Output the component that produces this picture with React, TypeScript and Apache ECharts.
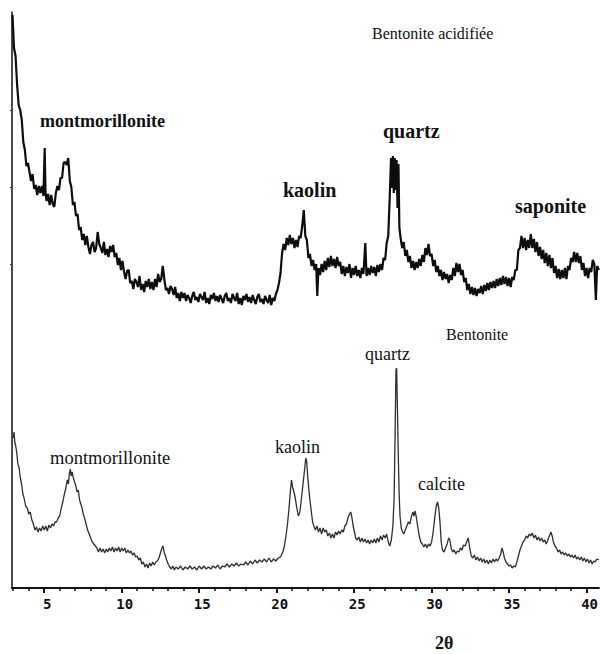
import React, { useEffect, useRef } from "react";
import * as echarts from "echarts";

// 2θ tick labels
const majorTicks = [5, 10, 15, 20, 25, 30, 35, 40];
const minorTicks = [3, 4, 6, 7, 8, 9, 11, 12, 13, 14, 16, 17, 18, 19, 21, 22, 23, 24, 26, 27, 28, 29, 31, 32, 33, 34, 36, 37, 38, 39];
const leftTicks = [324, 401, 478];

// Bentonite acidifiée (offset intensity, arbitrary units)
const acidified: [number, number][] = [
  [2.95, 573], [3.05, 540], [3.15, 532], [3.25, 503], [3.35, 483], [3.45, 478], [3.55, 468], [3.65, 446], [3.75, 438], [3.85, 422],
  [3.95, 425], [4.05, 416], [4.15, 407], [4.25, 414], [4.35, 399], [4.45, 403], [4.55, 393], [4.65, 402], [4.75, 395], [4.85, 402],
  [4.95, 392], [5.03, 440], [5.08, 396], [5.15, 387], [5.25, 394], [5.35, 383], [5.45, 393], [5.55, 384], [5.65, 381], [5.75, 395],
  [5.85, 402], [5.95, 398], [6.05, 410], [6.15, 410], [6.25, 425], [6.35, 426], [6.45, 423], [6.55, 430], [6.65, 407], [6.75, 401],
  [6.85, 383], [6.95, 386], [7.05, 372], [7.15, 374], [7.25, 358], [7.35, 361], [7.45, 348], [7.55, 354], [7.65, 343], [7.75, 352],
  [7.85, 341], [7.95, 334], [8.05, 343], [8.15, 346], [8.25, 336], [8.35, 340], [8.45, 356], [8.55, 344], [8.65, 340], [8.75, 335],
  [8.85, 346], [8.95, 333], [9.05, 339], [9.15, 331], [9.25, 342], [9.35, 336], [9.45, 343], [9.55, 331], [9.65, 335], [9.75, 323],
  [9.85, 330], [9.95, 318], [10.05, 327], [10.15, 316], [10.25, 309], [10.35, 317], [10.45, 318], [10.55, 305], [10.65, 307], [10.75, 299],
  [10.85, 309], [10.95, 306], [11.05, 301], [11.15, 312], [11.25, 298], [11.35, 304], [11.45, 296], [11.55, 307], [11.65, 301], [11.75, 309],
  [11.85, 299], [11.95, 306], [12.05, 298], [12.15, 309], [12.25, 301], [12.35, 314], [12.45, 306], [12.55, 309], [12.65, 322], [12.75, 309],
  [12.85, 298], [12.95, 300], [13.05, 294], [13.15, 302], [13.25, 299], [13.35, 293], [13.45, 301], [13.55, 290], [13.65, 295], [13.75, 287],
  [13.85, 296], [13.95, 290], [14.05, 295], [14.15, 287], [14.25, 293], [14.35, 290], [14.45, 285], [14.55, 292], [14.65, 296], [14.75, 288],
  [14.85, 291], [14.95, 286], [15.05, 294], [15.15, 291], [15.25, 288], [15.35, 296], [15.45, 285], [15.55, 290], [15.65, 284], [15.75, 293],
  [15.85, 289], [15.95, 295], [16.05, 287], [16.15, 292], [16.25, 286], [16.35, 293], [16.45, 289], [16.55, 285], [16.65, 292], [16.75, 295],
  [16.85, 287], [16.95, 290], [17.05, 285], [17.15, 294], [17.25, 290], [17.35, 287], [17.45, 295], [17.55, 284], [17.65, 290], [17.75, 283],
  [17.85, 292], [17.95, 288], [18.05, 294], [18.15, 286], [18.25, 291], [18.35, 285], [18.45, 293], [18.55, 288], [18.65, 284], [18.75, 291],
  [18.85, 294], [18.95, 286], [19.05, 289], [19.15, 284], [19.25, 292], [19.35, 288], [19.45, 285], [19.55, 293], [19.65, 283], [19.75, 290],
  [19.85, 287], [19.95, 294], [20.05, 298], [20.15, 305], [20.25, 315], [20.35, 335], [20.45, 344], [20.55, 338], [20.65, 350], [20.75, 343],
  [20.85, 353], [20.95, 344], [21.05, 350], [21.15, 340], [21.25, 348], [21.35, 341], [21.45, 352], [21.55, 350], [21.65, 362], [21.75, 378],
  [21.85, 352], [21.95, 348], [22.05, 330], [22.15, 334], [22.25, 322], [22.35, 328], [22.45, 318], [22.55, 324], [22.62, 292], [22.7, 320],
  [22.8, 313], [22.9, 324], [23.0, 316], [23.1, 327], [23.2, 318], [23.3, 330], [23.4, 321], [23.5, 332], [23.6, 322], [23.7, 329],
  [23.8, 320], [23.9, 331], [24.0, 322], [24.1, 326], [24.2, 314], [24.3, 322], [24.4, 312], [24.5, 321], [24.6, 315], [24.7, 324],
  [24.8, 310], [24.9, 320], [25.0, 313], [25.1, 322], [25.2, 312], [25.3, 318], [25.4, 310], [25.5, 320], [25.6, 314], [25.72, 345],
  [25.8, 312], [25.9, 320], [26.0, 313], [26.1, 322], [26.2, 315], [26.3, 321], [26.4, 312], [26.5, 323], [26.6, 316], [26.7, 324],
  [26.8, 318], [26.9, 330], [27.0, 328], [27.1, 345], [27.2, 352], [27.3, 392], [27.38, 430], [27.44, 400], [27.5, 432], [27.56, 395],
  [27.62, 430], [27.68, 398], [27.74, 428], [27.8, 380], [27.86, 424], [27.92, 360], [28.0, 350], [28.1, 340], [28.2, 346], [28.3, 332],
  [28.4, 338], [28.5, 326], [28.6, 332], [28.7, 320], [28.8, 327], [28.9, 318], [29.0, 326], [29.1, 320], [29.2, 329], [29.3, 322],
  [29.4, 333], [29.5, 326], [29.6, 340], [29.7, 333], [29.8, 344], [29.9, 332], [30.0, 334], [30.1, 322], [30.2, 328], [30.3, 316],
  [30.4, 322], [30.5, 312], [30.6, 318], [30.7, 308], [30.8, 316], [30.9, 309], [31.0, 314], [31.1, 305], [31.2, 313], [31.3, 308],
  [31.4, 320], [31.5, 312], [31.6, 325], [31.7, 316], [31.8, 324], [31.9, 313], [32.0, 318], [32.1, 306], [32.2, 310], [32.3, 298],
  [32.4, 304], [32.5, 294], [32.6, 301], [32.7, 293], [32.8, 300], [32.9, 292], [33.0, 299], [33.1, 295], [33.2, 302], [33.3, 294],
  [33.4, 303], [33.5, 297], [33.6, 305], [33.7, 298], [33.8, 306], [33.9, 300], [34.0, 307], [34.1, 300], [34.2, 309], [34.3, 302],
  [34.4, 310], [34.5, 303], [34.6, 312], [34.7, 304], [34.8, 311], [34.9, 302], [35.0, 310], [35.1, 301], [35.2, 311], [35.3, 308],
  [35.4, 318], [35.5, 318], [35.6, 338], [35.7, 340], [35.8, 352], [35.9, 340], [36.0, 350], [36.1, 338], [36.2, 348], [36.3, 340],
  [36.4, 354], [36.5, 340], [36.6, 349], [36.7, 336], [36.8, 346], [36.9, 332], [37.0, 341], [37.1, 329], [37.2, 338], [37.3, 325],
  [37.4, 335], [37.5, 322], [37.6, 333], [37.7, 320], [37.8, 330], [37.9, 315], [38.0, 322], [38.1, 310], [38.2, 319], [38.3, 309],
  [38.4, 318], [38.5, 310], [38.6, 320], [38.7, 309], [38.8, 322], [38.9, 318], [39.0, 330], [39.1, 326], [39.2, 336], [39.3, 326],
  [39.4, 335], [39.5, 325], [39.6, 332], [39.7, 318], [39.8, 325], [39.9, 312], [40.0, 320], [40.1, 310], [40.2, 320], [40.3, 316],
  [40.4, 328], [40.5, 324], [40.6, 288], [40.68, 322], [40.8, 318],
];

// Bentonite (offset intensity, arbitrary units)
const bentonite: [number, number][] = [
  [3.0, 150], [3.05, 156], [3.1, 146], [3.16, 142], [3.22, 136], [3.3, 124], [3.38, 120], [3.46, 110], [3.54, 104], [3.62, 94],
  [3.7, 90], [3.8, 82], [3.9, 80], [4.0, 74], [4.1, 76], [4.2, 68], [4.3, 64], [4.4, 58], [4.5, 61], [4.6, 56],
  [4.7, 60], [4.8, 57], [4.9, 62], [5.0, 58], [5.1, 62], [5.2, 57], [5.3, 63], [5.4, 60], [5.5, 64], [5.6, 62],
  [5.7, 66], [5.8, 66], [5.9, 70], [6.0, 72], [6.1, 80], [6.2, 86], [6.3, 94], [6.4, 100], [6.48, 108], [6.56, 104],
  [6.62, 114], [6.68, 119], [6.74, 112], [6.8, 116], [6.88, 110], [6.96, 106], [7.04, 102], [7.12, 96], [7.2, 98], [7.28, 88],
  [7.36, 84], [7.44, 80], [7.52, 74], [7.6, 70], [7.7, 64], [7.8, 58], [7.9, 54], [8.0, 50], [8.1, 46], [8.2, 44],
  [8.3, 42], [8.4, 40], [8.5, 36], [8.6, 40], [8.7, 36], [8.8, 39], [8.9, 35], [9.0, 39], [9.1, 36], [9.2, 40],
  [9.3, 37], [9.4, 41], [9.5, 36], [9.6, 40], [9.7, 37], [9.8, 41], [9.9, 36], [10.0, 40], [10.1, 37], [10.2, 40],
  [10.3, 35], [10.4, 38], [10.5, 35], [10.6, 37], [10.7, 33], [10.8, 35], [10.9, 31], [11.0, 32], [11.1, 28], [11.2, 30],
  [11.3, 24], [11.4, 26], [11.5, 21], [11.6, 24], [11.7, 20], [11.8, 25], [11.9, 22], [12.0, 26], [12.1, 23], [12.2, 26],
  [12.3, 27], [12.4, 30], [12.5, 35], [12.6, 40], [12.66, 42], [12.74, 36], [12.82, 32], [12.9, 28], [13.0, 24], [13.1, 21],
  [13.2, 19], [13.3, 22], [13.4, 18], [13.5, 21], [13.65, 19], [13.8, 22], [13.95, 18], [14.1, 21], [14.25, 19], [14.4, 22],
  [14.55, 19], [14.7, 21], [14.85, 18], [15.0, 22], [15.15, 19], [15.3, 22], [15.45, 19], [15.6, 21], [15.75, 19], [15.9, 22],
  [16.05, 20], [16.2, 23], [16.35, 19], [16.5, 22], [16.65, 21], [16.8, 24], [16.95, 21], [17.1, 24], [17.25, 22], [17.4, 25],
  [17.55, 22], [17.7, 24], [17.85, 23], [18.0, 26], [18.15, 23], [18.3, 27], [18.45, 24], [18.6, 28], [18.75, 25], [18.9, 28],
  [19.05, 26], [19.2, 29], [19.35, 26], [19.5, 30], [19.65, 26], [19.8, 29], [19.95, 27], [20.1, 30], [20.25, 31], [20.4, 36],
  [20.5, 42], [20.6, 52], [20.7, 64], [20.8, 80], [20.88, 96], [20.96, 108], [21.04, 100], [21.12, 96], [21.2, 90], [21.3, 80],
  [21.4, 72], [21.5, 76], [21.6, 90], [21.7, 104], [21.8, 118], [21.88, 130], [21.94, 126], [22.0, 112], [22.08, 98], [22.16, 86],
  [22.24, 76], [22.32, 66], [22.4, 62], [22.5, 58], [22.6, 62], [22.7, 56], [22.8, 60], [22.9, 54], [23.0, 60], [23.1, 56],
  [23.2, 58], [23.3, 52], [23.4, 55], [23.5, 50], [23.6, 54], [23.7, 50], [23.8, 56], [23.9, 53], [24.0, 57], [24.1, 54],
  [24.2, 58], [24.3, 56], [24.4, 62], [24.5, 64], [24.6, 70], [24.7, 74], [24.78, 76], [24.86, 70], [24.94, 62], [25.02, 56],
  [25.1, 50], [25.2, 48], [25.3, 51], [25.4, 46], [25.5, 50], [25.6, 46], [25.7, 49], [25.8, 45], [25.9, 48], [26.0, 44],
  [26.1, 48], [26.2, 45], [26.3, 49], [26.4, 45], [26.5, 50], [26.6, 46], [26.7, 52], [26.8, 48], [26.9, 53], [27.0, 50],
  [27.1, 54], [27.2, 46], [27.3, 42], [27.4, 48], [27.5, 62], [27.58, 90], [27.64, 150], [27.7, 218], [27.74, 220], [27.78, 190],
  [27.84, 140], [27.9, 96], [27.96, 72], [28.04, 60], [28.12, 56], [28.2, 54], [28.3, 58], [28.4, 62], [28.5, 66], [28.6, 64],
  [28.7, 72], [28.8, 76], [28.86, 72], [28.94, 77], [29.02, 70], [29.1, 62], [29.2, 52], [29.3, 46], [29.4, 44], [29.5, 41],
  [29.6, 44], [29.7, 40], [29.8, 44], [29.9, 42], [30.0, 46], [30.1, 56], [30.2, 70], [30.3, 82], [30.38, 86], [30.46, 80],
  [30.54, 66], [30.62, 46], [30.7, 38], [30.8, 36], [30.9, 40], [31.0, 44], [31.1, 50], [31.18, 48], [31.26, 40], [31.36, 36],
  [31.46, 38], [31.56, 34], [31.66, 37], [31.76, 36], [31.86, 40], [31.96, 38], [32.06, 43], [32.16, 42], [32.26, 46], [32.36, 50],
  [32.46, 40], [32.56, 32], [32.66, 30], [32.76, 33], [32.86, 28], [32.96, 31], [33.06, 27], [33.16, 30], [33.26, 26], [33.36, 29],
  [33.46, 25], [33.56, 28], [33.66, 24], [33.76, 28], [33.86, 25], [33.96, 29], [34.06, 26], [34.16, 29], [34.26, 27], [34.36, 30],
  [34.46, 34], [34.54, 40], [34.62, 36], [34.7, 30], [34.8, 26], [34.9, 24], [35.0, 22], [35.1, 23], [35.2, 20], [35.3, 22],
  [35.4, 21], [35.5, 26], [35.6, 32], [35.7, 38], [35.8, 42], [35.9, 46], [36.0, 48], [36.1, 52], [36.2, 50], [36.3, 54],
  [36.4, 52], [36.5, 55], [36.6, 50], [36.7, 53], [36.8, 48], [36.9, 51], [37.0, 47], [37.1, 50], [37.2, 46], [37.3, 48],
  [37.4, 44], [37.5, 48], [37.6, 52], [37.7, 56], [37.78, 52], [37.86, 46], [37.96, 42], [38.06, 40], [38.16, 36], [38.26, 38],
  [38.36, 34], [38.46, 36], [38.56, 33], [38.66, 35], [38.76, 32], [38.86, 34], [38.96, 31], [39.06, 33], [39.16, 30], [39.26, 33],
  [39.36, 29], [39.46, 31], [39.56, 28], [39.66, 31], [39.76, 27], [39.86, 30], [39.96, 26], [40.06, 29], [40.16, 25], [40.26, 28],
  [40.36, 24], [40.46, 27], [40.56, 26], [40.66, 29], [40.8, 28],
];

const SERIF = "Liberation Serif";

export default function App() {
  const ref = useRef<HTMLDivElement>(null);
  useEffect(() => {
    if (!ref.current) return;
    const chart = echarts.init(ref.current, undefined, { renderer: "svg" });
    const label = (text: string, x: number, y: number, size: number, bold: boolean) => ({
      type: "text",
      x,
      y,
      style: {
        text,
        fontFamily: SERIF,
        fontSize: size,
        fontWeight: bold ? "bold" : "normal",
        fill: "#111",
        verticalAlign: "middle",
      },
    });
    chart.setOption({
      animation: false,
      backgroundColor: "#fff",
      grid: { left: 12, right: 0, top: 12, bottom: 66 },
      xAxis: [
        {
          type: "value",
          min: 2.92,
          max: 40.8,
          position: "bottom",
          axisLine: { show: true, lineStyle: { color: "#111", width: 2 } },
          axisTick: { show: true, customValues: majorTicks, length: 5, lineStyle: { color: "#111", width: 2 } },
          axisLabel: {
            customValues: majorTicks,
            margin: 9,
            padding: [0, 0, 0, 6],
            color: "#111",
            fontFamily: "DejaVu Sans Mono",
            fontWeight: "bold",
            fontSize: 14,
          },
          splitLine: { show: false },
        },
        {
          type: "value",
          min: 2.92,
          max: 40.8,
          position: "bottom",
          offset: 0,
          axisLine: { show: false },
          axisTick: { show: true, customValues: minorTicks, length: 3, lineStyle: { color: "#111", width: 1.5 } },
          axisLabel: { show: false },
          splitLine: { show: false },
        },
      ],
      yAxis: {
        type: "value",
        min: 0,
        max: 576,
        axisLine: { show: true, lineStyle: { color: "#111", width: 1.5 } },
        axisTick: { show: true, customValues: leftTicks, length: 2, lineStyle: { color: "#333" } },
        axisLabel: { show: false },
        splitLine: { show: false },
      },
      series: [
        {
          name: "Bentonite acidifiée",
          type: "line",
          data: acidified,
          showSymbol: false,
          lineStyle: { color: "#0d0d0d", width: 2.2 },
          silent: true,
        },
        {
          name: "Bentonite",
          type: "line",
          data: bentonite,
          showSymbol: false,
          lineStyle: { color: "#2e2e2e", width: 1.3 },
          silent: true,
        },
      ],
      graphic: [
        label("Bentonite acidifiée", 372, 33, 16, false),
        label("montmorillonite", 40, 121, 18, true),
        label("kaolin", 283, 190, 20, true),
        label("quartz", 383, 131, 20, true),
        label("saponite", 515, 206, 20, true),
        label("Bentonite", 446, 334, 16, false),
        label("montmorillonite", 50, 458, 18.5, false),
        label("kaolin", 275, 447, 18, false),
        label("quartz", 365, 354, 18, false),
        label("calcite", 418, 484, 18, false),
        label("2θ", 435, 643, 18, true),
      ],
    });
    return () => chart.dispose();
  }, []);
  return (
    <div
      ref={ref}
      style={{ position: "absolute", left: 0, top: 0, width: 601, height: 654, background: "#fff" }}
    />
  );
}
